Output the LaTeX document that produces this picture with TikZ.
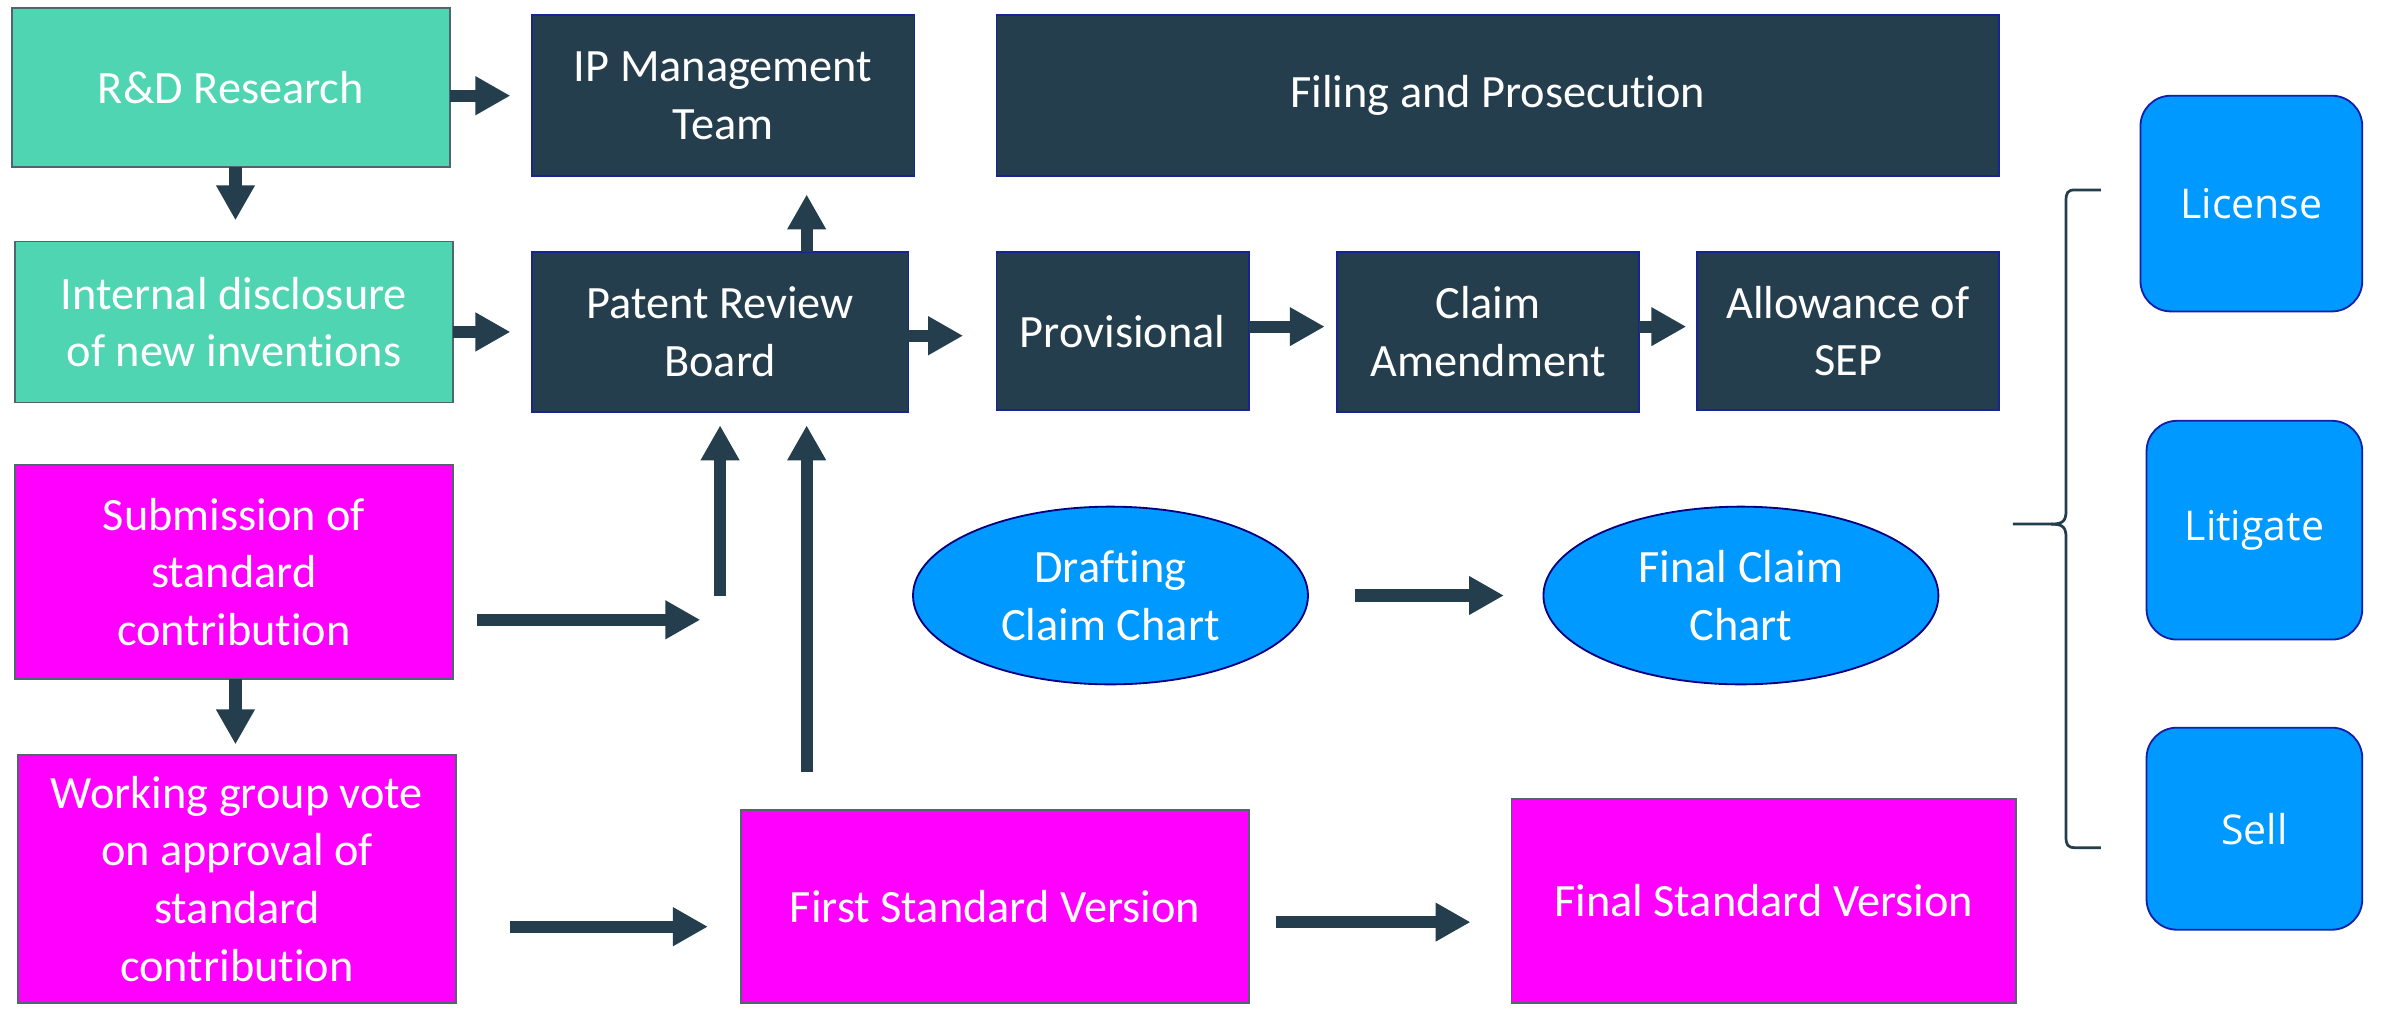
\documentclass[tikz,border=0pt]{standalone}
\usepackage{fontspec}
\setmainfont[Ligatures=NoCommon]{Carlito}
\newfontfamily\osans{Open Sans}
\usetikzlibrary{arrows.meta,shapes.geometric}
\definecolor{teal1}{HTML}{4FD5B2}
\definecolor{dark1}{HTML}{253E4D}
\definecolor{mag1}{HTML}{FF00FF}
\definecolor{blue1}{HTML}{0099FF}
\begin{document}
\begin{tikzpicture}[x=0.5pt,y=-0.5pt,
 every node/.style={inner sep=0pt, outer sep=0pt, align=center, text=white, font=\fontsize{15.25}{19}\selectfont},
 tealbox/.style={rectangle, fill=teal1, draw=dark1!80, line width=0.6pt},
 darkbox/.style={rectangle, fill=dark1, draw=blue!40!dark1, line width=0.6pt},
 magbox/.style={rectangle, fill=mag1, draw=dark1!80, line width=0.6pt},
 ellbox/.style={ellipse, fill=blue1, draw=blue!50!black, line width=0.6pt},
 rbox/.style={rectangle, rounded corners=10pt, fill=blue1, draw=blue!50!dark1, line width=0.6pt, font=\osans\fontsize{13.5}{16}\selectfont},
 arr/.style={draw=dark1, line width=4pt, -{Triangle[width=12pt,length=11.5pt]}},
 sz/.style 2 args={minimum width=#1*0.5pt, minimum height=#2*0.5pt}]
\useasboundingbox[fill=white] (0,0) rectangle (1568,664);

% left column
\node[tealbox, sz={288}{105}] (rd) at (152,57.5) {R\&D Research};
\node[tealbox, sz={288}{106}] (ind) at (154,212) {Internal disclosure\\of new inventions};
\node[magbox, sz={288}{141}] (sub) at (154,376.5) {Submission of\\standard\\contribution};
\node[magbox, sz={288}{163}] (wg) at (156,578.5) {Working group vote\\on approval of\\standard\\contribution};

% dark boxes
\node[darkbox, sz={252}{106}] (ipm) at (476,63) {IP Management\\Team};
\node[darkbox, sz={248}{105}] (prb) at (474,218.5) {Patent Review\\Board};
\node[darkbox, sz={660}{106}] (fil) at (986,63) {Filing and Prosecution};
\node[darkbox, sz={166}{104}] (prov) at (739,218) {Provisional};
\node[darkbox, sz={199}{105}] (cla) at (979.5,218.5) {Claim\\Amendment};
\node[darkbox, sz={199}{104}] (allow) at (1216.5,218) {Allowance of\\SEP};

% ellipses
\node[ellbox, sz={260}{117}] (dcc) at (731,392) {Drafting\\Claim Chart};
\node[ellbox, sz={260}{117}] (fcc) at (1146,392) {Final Claim\\Chart};

% standard versions
\node[magbox, sz={334}{127}] (fsv) at (655,596.5) {First Standard Version};
\node[magbox, sz={332}{134}] (fnsv) at (1161,593) {Final Standard Version};

% right boxes
\node[rbox, sz={146}{142}] (lic) at (1482,134) {License};
\node[rbox, sz={142}{144}] (lit) at (1484,349) {Litigate};
\node[rbox, sz={142}{133}] (sell) at (1484,545.5) {Sell};

% helper coordinates
\coordinate (subend) at (461,408);
\coordinate (upstart) at (474,392);
\coordinate (upx) at (531,0);
\coordinate (lx) at (155,0);
\coordinate (wgy) at (0,610);
\coordinate (fy) at (0,607);
\coordinate (py) at (0,221);
\coordinate (cy) at (0,215);

% arrows
\draw[arr, shorten >=7pt] (rd.east |- ipm.west) -- (ipm.west);
\draw[arr, shorten >=7pt] (rd.south -| lx) -- (ind.north -| lx);
\draw[arr, shorten >=7pt] (ind.east |- prb.west) -- (prb.west);
\draw[arr, shorten >=6pt] (prb.north -| upx) -- (ipm.south -| upx);
\draw[arr, shorten >=11pt] (prb.east |- py) -- (prov.west |- py);
\draw[arr, shorten >=4pt] (prov.east |- cy) -- (cla.west |- cy);
\draw[arr, shorten >=3.5pt] (cla.east |- cy) -- (allow.west |- cy);
\draw[arr, shorten <=8pt] (sub.east |- subend) -- (subend);
\draw[arr, shorten >=4.5pt] (upstart) -- (upstart |- prb.south);
\draw[arr, shorten <=12.5pt, shorten >=4.5pt] (fsv.north -| upx) -- (prb.south -| upx);
\draw[arr, shorten >=3.5pt] (sub.south -| lx) -- (wg.north -| lx);
\draw[arr, shorten <=18pt, shorten >=11pt] (wg.east |- wgy) -- (fsv.west |- wgy);
\draw[arr, shorten <=9pt, shorten >=13.5pt] (fsv.east |- fy) -- (fnsv.west |- fy);
\draw[arr, shorten <=15.5pt, shorten >=13pt] (dcc.east) -- (fcc.west);

% brace
\draw[dark1, line width=0.9pt]
  (1383,125) -- (1366,125) .. controls (1361,125) and (1360,127) .. (1360,132)
  -- (1360,336) .. controls (1360,343) and (1358,345) .. (1350,345) -- (1325,345);
\draw[dark1, line width=0.9pt]
  (1350,345) .. controls (1358,345) and (1360,347) .. (1360,354)
  -- (1360,551) .. controls (1360,556) and (1361,558) .. (1366,558) -- (1383,558);
\end{tikzpicture}
\end{document}
